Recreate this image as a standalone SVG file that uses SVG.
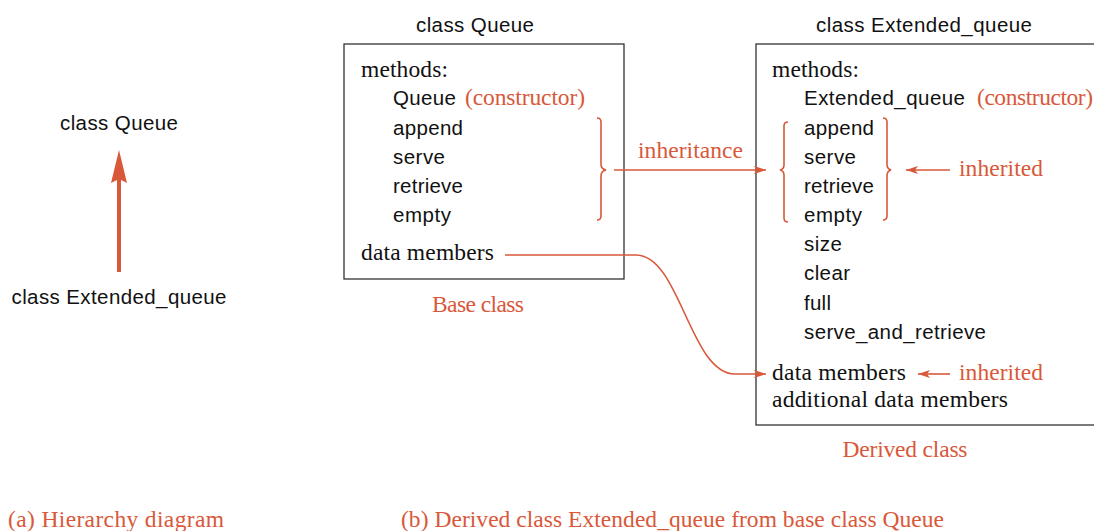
<svg xmlns="http://www.w3.org/2000/svg" width="1094" height="531" viewBox="0 0 1094 531">
<defs>
<style>
.s{font-family:"Liberation Sans",Arial,sans-serif;font-size:20.5px;fill:#111}
.r{font-family:"Liberation Serif","Times New Roman",serif;font-size:23.5px;fill:#111}
.o{font-family:"Liberation Serif","Times New Roman",serif;font-size:23.5px;fill:#d9583a}
.box{fill:#fff;stroke:#333;stroke-width:1.3}
.ln{fill:none;stroke:#d9583a;stroke-width:1.6}
</style>
<marker id="ah" viewBox="0 0 12 8" refX="12" refY="4" markerWidth="12" markerHeight="8" markerUnits="userSpaceOnUse" orient="auto">
<path d="M0,0 L12,4 L0,8 L3,4 Z" fill="#d9583a"/>
</marker>
</defs>

<g id="hierarchy">
<text class="s" x="119" y="130" text-anchor="middle" textLength="118">class Queue</text>
<text class="s" x="119" y="304" text-anchor="middle" textLength="215">class Extended_queue</text>
</g>

<g id="base-class">
<text class="s" x="475" y="32" text-anchor="middle" textLength="118">class Queue</text>
<rect class="box" x="344" y="44" width="280" height="235"/>
<text class="r" x="361" y="77" textLength="87">methods:</text>
<text class="s" x="393" y="105" textLength="63">Queue</text>
<text class="o" x="465" y="105" textLength="120">(constructor)</text>
<text class="s" x="393" y="135" textLength="70">append</text>
<text class="s" x="393" y="164" textLength="52">serve</text>
<text class="s" x="393" y="193" textLength="70">retrieve</text>
<text class="s" x="393" y="222" textLength="58">empty</text>
<text class="r" x="361" y="260" textLength="133">data members</text>
<text class="o" x="478" y="312" text-anchor="middle" textLength="92">Base class</text>
</g>

<g id="derived-class">
<text class="s" x="924" y="32" text-anchor="middle" textLength="216">class Extended_queue</text>
<rect class="box" x="756" y="44" width="360" height="381"/>
<text class="r" x="772" y="77" textLength="87">methods:</text>
<text class="s" x="804" y="105" textLength="161">Extended_queue</text>
<text class="o" x="977" y="105" textLength="116">(constructor)</text>
<text class="s" x="804" y="135" textLength="70">append</text>
<text class="s" x="804" y="164" textLength="52">serve</text>
<text class="s" x="804" y="193" textLength="70">retrieve</text>
<text class="s" x="804" y="222" textLength="58">empty</text>
<text class="s" x="804" y="251" textLength="38">size</text>
<text class="s" x="804" y="280" textLength="46">clear</text>
<text class="s" x="804" y="310" textLength="27">full</text>
<text class="s" x="804" y="339" textLength="182">serve_and_retrieve</text>
<text class="r" x="772" y="380" textLength="134">data members</text>
<text class="r" x="772" y="407" textLength="236">additional data members</text>
<text class="o" x="905" y="457" text-anchor="middle" textLength="125">Derived class</text>
</g>

<g id="connectors">
<line x1="119" y1="272" x2="119" y2="178" stroke="#d9583a" stroke-width="4"/>
<path d="M119,150 L127,183 L119,179 L111,183 Z" fill="#d9583a"/>
<path class="ln" d="M597,118 Q601,118 601,122 L601,164 Q601,169 606,170 Q601,171 601,176 L601,216 Q601,220 597,220"/>
<line class="ln" x1="614" y1="170" x2="766" y2="170" marker-end="url(#ah)"/>
<text class="o" x="638" y="158" textLength="105">inheritance</text>
<path class="ln" d="M788,122 Q784,122 784,126 L784,165 Q784,169 780,170 Q784,171 784,175 L784,218 Q784,222 788,222"/>
<path class="ln" d="M883,118 Q887,118 887,122 L887,164 Q887,169 891,170 Q887,171 887,176 L887,216 Q887,220 883,220"/>
<line class="ln" x1="950" y1="170" x2="906" y2="170" marker-end="url(#ah)"/>
<text class="o" x="959" y="176" textLength="84">inherited</text>
<path class="ln" d="M505,255 L636,255 C680,255 690,374 735,374 L766,374" marker-end="url(#ah)"/>
<line class="ln" x1="950" y1="374" x2="918" y2="374" marker-end="url(#ah)"/>
<text class="o" x="959" y="380" textLength="84">inherited</text>
</g>

<g id="captions">
<text class="o" x="8" y="527" textLength="216" font-size="23">(a) Hierarchy diagram</text>
<text class="o" x="401" y="527" textLength="543" font-size="23">(b) Derived class Extended_queue from base class Queue</text>
</g>
</svg>
